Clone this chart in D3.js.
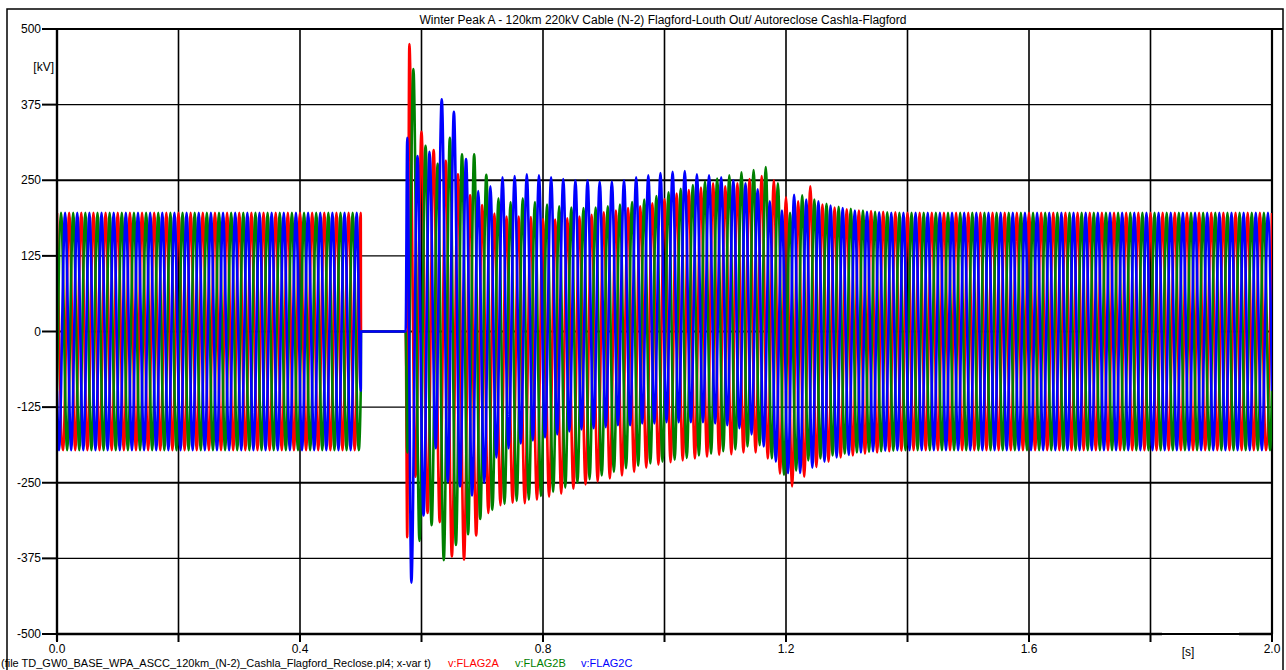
<!DOCTYPE html>
<html>
<head>
<meta charset="utf-8">
<script src="https://cdn.jsdelivr.net/npm/d3@7"></script>
<style>
  body { margin: 0; background: #fff; }
  svg { display: block; }
  text { font-family: "Liberation Sans", Arial, sans-serif; fill: #000; }
</style>
</head>
<body>
<div id="chart"></div>
<script>
// ---- chart data ----
var title = "Winter Peak A - 120km 220kV Cable (N-2) Flagford-Louth Out/ Autoreclose Cashla-Flagford";
var footerFile = "(file TD_GW0_BASE_WPA_ASCC_120km_(N-2)_Cashla_Flagford_Reclose.pl4; x-var t)";
var seriesNames = ["v:FLAG2A", "v:FLAG2B", "v:FLAG2C"];
var seriesColors = ["#ff0000", "#008000", "#0000ff"];

var yTicks = [500, 375, 250, 125, 0, -125, -250, -375, -500];
var xGrid = [0, 0.2, 0.4, 0.6, 0.8, 1.0, 1.2, 1.4, 1.6, 1.8, 2.0];
var xLabels = [0, 0.4, 0.8, 1.2, 1.6, 2.0];

// 50 Hz system, phases A/B/C lag 0, 1/3, 2/3 cycle
var freq = 50;
var phaseLag = [0, 1 / 3, 2 / 3];
var ampPre = [196, 196, 196];     // steady peak before the trip [kV]
var ampPost = [196, 196, 196];    // steady peak after recovery [kV]
var startVals = [196, -98, -98];  // value at t = 0
var openVals = [196, -98, -98];   // value at the trip instant
var endVals = [196, -98, -98];    // value at t = 2.0
var tOpen = 0.5, tReclose = 0.574, tEnd = 2.0;

// half-cycle extremes after reclose (index of first peak, then one value per half cycle)
var firstPeak = [57, 57, 56];
var lastPeak = 139;
var peaksA = [
  -340, 475, -240, 330, -300, 300, -315, 282, -372, 260,
  -377, 225, -337, 209, -300, 195, -287, 190, -283, 190,
  -284, 189, -278, 186, -273, 185, -268, 187, -260, 190,
  -253, 193, -248, 197, -243, 200, -238, 204, -232, 207,
  -225, 212, -220, 219, -216, 228, -213, 234, -210, 238,
  -207, 245, -204, 240, -203, 245, -200, 252, -200, 257,
  -210, 250, -235, 222, -256, 215, -240, 240, -224, 210,
  -215, 205, -208, 202, -205, 200, -202, 199, -200, 198,
  -198, 197, -197
];
var peaksB = [
  -200, 434, -346, 307, -320, 277, -378, 320, -353, 293,
  -335, 293, -310, 259, -295, 220, -285, 214, -280, 220,
  -278, 214, -272, 210, -265, 207, -258, 205, -250, 204,
  -244, 205, -238, 207, -232, 210, -226, 214, -222, 218,
  -218, 224, -215, 230, -212, 236, -209, 242, -205, 248,
  -202, 253, -198, 258, -195, 263, -190, 267, -188, 272,
  -210, 245, -237, 196, -230, 225, -213, 218, -210, 211,
  -205, 206, -202, 203, -200, 200, -199, 198, -198, 197,
  -197, 196, -196
];
var peaksC = [
  320, -415, 290, -304, 297, -193, 384, -248, 363, -256,
  285, -271, 232, -250, 240, -208, 255, -193, 257, -185,
  260, -180, 258, -175, 255, -170, 252, -165, 250, -162,
  250, -160, 248, -158, 248, -155, 250, -155, 255, -152,
  258, -152, 262, -150, 264, -150, 265, -150, 260, -150,
  258, -152, 255, -155, 250, -160, 245, -170, 235, -190,
  215, -215, 200, -234, 226, -234, 218, -225, 215, -215,
  208, -208, 204, -204, 200, -200, 198, -198, 197, -197,
  196, -196, 196, -196
];
var peakSets = [peaksA, peaksB, peaksC];

// ---- layout ----
var W = 1286, H = 670;
var plot = {left: 57, right: 1272, top: 29, bottom: 634};

var x = d3.scaleLinear().domain([0, 2]).range([plot.left, plot.right]);
var y = d3.scaleLinear().domain([-500, 500]).range([plot.bottom, plot.top]);

var svg = d3.select("#chart").append("svg")
    .attr("width", W)
    .attr("height", H);

// outer frame
svg.append("rect")
    .attr("x", 7).attr("y", 9)
    .attr("width", 1276).attr("height", 720)
    .attr("fill", "none")
    .attr("stroke", "#000")
    .attr("stroke-width", 1.5);

svg.append("text")
    .attr("x", 663).attr("y", 23.5)
    .attr("text-anchor", "middle")
    .style("font-size", "12px")
    .text(title);

// grid
var grid = svg.append("g");
grid.selectAll(".hgrid")
    .data(yTicks)
    .enter().append("line")
    .attr("x1", plot.left).attr("x2", plot.right)
    .attr("y1", function (d) { return y(d); })
    .attr("y2", function (d) { return y(d); })
    .attr("stroke", "#000")
    .attr("stroke-width", function (d) { return d % 250 === 0 ? 2 : 1.2; });

grid.selectAll(".vgrid")
    .data(xGrid)
    .enter().append("line")
    .attr("x1", function (d) { return x(d); })
    .attr("x2", function (d) { return x(d); })
    .attr("y1", plot.top).attr("y2", plot.bottom)
    .attr("stroke", "#000")
    .attr("stroke-width", function (d) { return d === 0 || d === 2 ? 2.2 : 1.6; });

// top line continues to the frame
svg.append("line")
    .attr("x1", plot.right).attr("x2", 1283)
    .attr("y1", plot.top).attr("y2", plot.top)
    .attr("stroke", "#000").attr("stroke-width", 2);

// ---- waveforms ----
function buildSeries(i, peaks) {
  var half = 0.5 / freq, off = phaseLag[i] / freq;
  var pts = [[0, startVals[i]]];
  var k, t;
  for (k = -2; off + k * half < tOpen - 1e-6; k++) {
    t = off + k * half;
    if (t <= 1e-6) continue;
    pts.push([t, k % 2 === 0 ? ampPre[i] : -ampPre[i]]);
  }
  pts.push([tOpen, openVals[i]]);
  pts.push([tOpen + 0.0004, 0]);
  pts.push([tReclose, 0]);
  peaks.forEach(function (v, j) {
    var tp = Math.max(off + (firstPeak[i] + j) * half, tReclose + 0.0025);
    pts.push([tp, v]);
  });
  for (k = lastPeak + 1; off + k * half < tEnd - 1e-6; k++) {
    pts.push([off + k * half, k % 2 === 0 ? ampPost[i] : -ampPost[i]]);
  }
  pts.push([tEnd, endVals[i]]);
  return pts;
}

svg.append("clipPath").attr("id", "plotclip")
    .append("rect")
    .attr("x", plot.left).attr("y", plot.top - 2)
    .attr("width", plot.right - plot.left).attr("height", plot.bottom - plot.top + 4);

var line = d3.line()
    .x(function (d) { return x(d[0]); })
    .y(function (d) { return y(d[1]); })
    .curve(d3.curveMonotoneX);

var waves = svg.append("g").attr("clip-path", "url(#plotclip)");
peakSets.forEach(function (peaks, i) {
  waves.append("path")
      .datum(buildSeries(i, peaks))
      .attr("fill", "none")
      .attr("stroke", seriesColors[i])
      .attr("stroke-width", 2.6)
      .attr("stroke-linejoin", "round")
      .attr("d", line);
});

// ---- axes ----
var axes = svg.append("g");
axes.append("line")
    .attr("x1", plot.left).attr("x2", plot.left)
    .attr("y1", plot.top).attr("y2", plot.bottom + 7)
    .attr("stroke", "#000").attr("stroke-width", 2.2);

// y ticks and labels
axes.selectAll(".ytick")
    .data(yTicks)
    .enter().append("line")
    .attr("x1", 42).attr("x2", plot.left)
    .attr("y1", function (d) { return y(d); })
    .attr("y2", function (d) { return y(d); })
    .attr("stroke", "#000").attr("stroke-width", 2);

axes.selectAll(".ylab")
    .data(yTicks)
    .enter().append("text")
    .attr("x", 41)
    .attr("y", function (d) { return y(d) + 4; })
    .attr("text-anchor", "end")
    .style("font-size", "12px")
    .text(function (d) { return d; });

axes.append("text")
    .attr("x", 54).attr("y", 71)
    .attr("text-anchor", "end")
    .style("font-size", "12px")
    .text("[kV]");

// x axis line with gap around the unit label
axes.append("line")
    .attr("x1", plot.left).attr("x2", 1162)
    .attr("y1", plot.bottom).attr("y2", plot.bottom)
    .attr("stroke", "#000").attr("stroke-width", 2.4);
axes.append("line")
    .attr("x1", 1239).attr("x2", plot.right)
    .attr("y1", plot.bottom).attr("y2", plot.bottom)
    .attr("stroke", "#000").attr("stroke-width", 2.4);

axes.selectAll(".xtick")
    .data(xGrid)
    .enter().append("line")
    .attr("x1", function (d) { return x(d); })
    .attr("x2", function (d) { return x(d); })
    .attr("y1", plot.bottom).attr("y2", plot.bottom + 8)
    .attr("stroke", "#000").attr("stroke-width", 2);

axes.selectAll(".xlab")
    .data(xLabels)
    .enter().append("text")
    .attr("x", function (d) { return x(d); })
    .attr("y", 653)
    .attr("text-anchor", "middle")
    .style("font-size", "12px")
    .text(function (d) { return d.toFixed(1); });

axes.append("text")
    .attr("x", 1188).attr("y", 656)
    .attr("text-anchor", "middle")
    .style("font-size", "12px")
    .text("[s]");

// ---- footer legend ----
var foot = svg.append("text")
    .attr("x", 1).attr("y", 667)
    .style("font-size", "11px");
foot.append("tspan").text(footerFile);
var legendX = [448, 515, 581];
seriesNames.forEach(function (name, i) {
  foot.append("tspan")
      .attr("x", legendX[i])
      .style("fill", seriesColors[i])
      .text(name);
});
</script>
</body>
</html>
